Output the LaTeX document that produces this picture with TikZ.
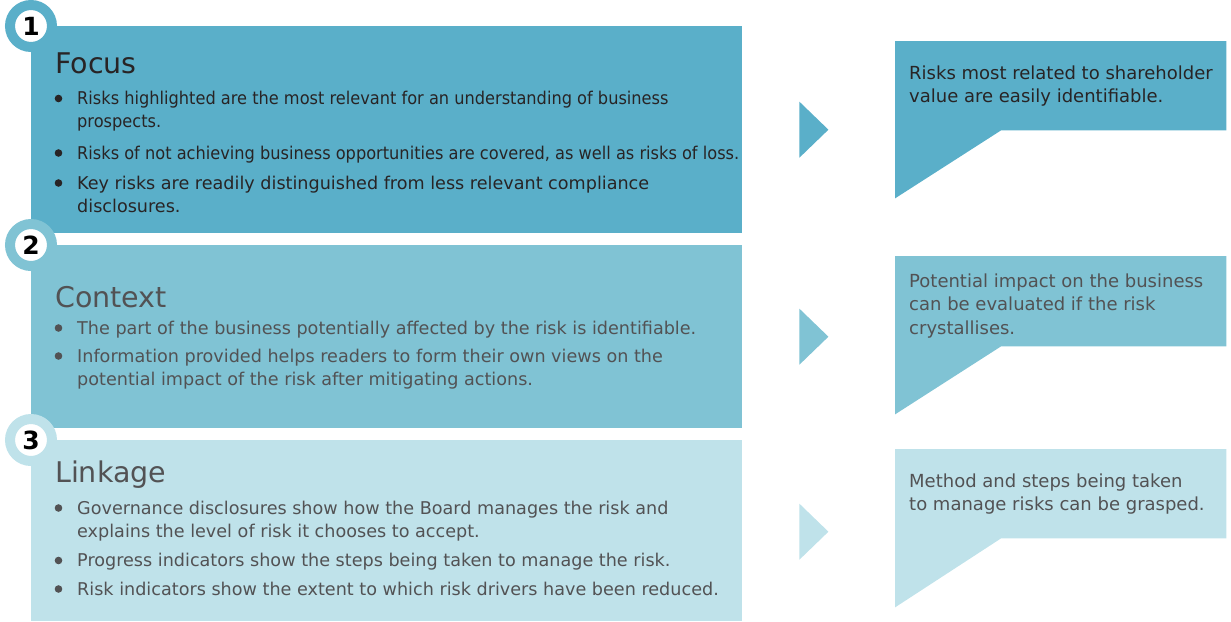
\documentclass[tikz,border=0pt]{standalone}
\usepackage{fontspec}
\setsansfont{DejaVu Sans}
\newfontfamily\narrowsf{DejaVu Sans}[FakeStretch=0.92]
\usetikzlibrary{positioning}

\definecolor{focusblue}{RGB}{90,175,201}
\definecolor{contextblue}{RGB}{128,195,212}
\definecolor{linkageblue}{RGB}{191,226,234}
\definecolor{darktext}{RGB}{40,36,37}
\definecolor{greytext}{RGB}{82,82,84}

% text block, baseline on the first line
\newcommand{\txt}[1]{\parbox[t]{700pt}{#1}}

\begin{document}
\begin{tikzpicture}[x=1pt,y=-1pt,font=\sffamily]

	\tikzset{panel st/.style={anchor=north west, inner sep=0pt,
			minimum width=711pt},
		badge st/.style={circle, fill=white, line width=10pt,
			minimum size=42pt, inner sep=0pt, text=black,
			font=\sffamily\bfseries\fontsize{25}{25}\selectfont},
		title st/.style={anchor=base west, inner sep=0pt,
			font=\sffamily\fontsize{28.5}{28.5}\selectfont},
		item st/.style={anchor=base west, inner sep=0pt,
			font=\sffamily\fontsize{17.6}{23.3}\selectfont},
		note st/.style={anchor=north west, inner sep=0pt,
			minimum width=331pt, minimum height=89pt}}

	\useasboundingbox (0,0) rectangle (1231,621);

	% panels
	\node[panel st, fill=focusblue, minimum height=207pt] (P1) at (31,26) {};
	\node[panel st, fill=contextblue, minimum height=183pt] (P2) at (31,245) {};
	\node[panel st, fill=linkageblue, minimum height=181pt] (P3) at (31,440) {};

	% number badges
	\node[badge st, draw=focusblue] (B1) at (P1.north west) {1};
	\node[badge st, draw=contextblue] (B2) at (P2.north west) {2};
	\node[badge st, draw=linkageblue] (B3) at (P3.north west) {3};

	% titles
	\node[title st, text=darktext] (H1) at (55,73) {Focus};
	\node[title st, text=greytext] (H2) at (55,307) {Context};
	\node[title st, text=greytext] (H3) at (55,482) {Linkage};

	% bullet items
	\node[item st, text=darktext, font=\narrowsf\fontsize{17.6}{23.3}\selectfont] (F1) at (77,104.5)
		{\txt{Risks highlighted are the most relevant for an understanding of business\\prospects.}};
	\node[item st, text=darktext, font=\narrowsf\fontsize{17.6}{23.3}\selectfont] (F2) at (77,159)
		{\txt{Risks of not achieving business opportunities are covered, as well as risks of loss.}};
	\node[item st, text=darktext] (F3) at (77,189)
		{\txt{Key risks are readily distinguished from less relevant compliance\\disclosures.}};

	\node[item st, text=greytext] (C1) at (77,334)
		{\txt{The part of the business potentially affected by the risk is identifiable.}};
	\node[item st, text=greytext] (C2) at (77,362)
		{\txt{Information provided helps readers to form their own views on the\\potential impact of the risk after mitigating actions.}};

	\node[item st, text=greytext] (L1) at (77,514)
		{\txt{Governance disclosures show how the Board manages the risk and\\explains the level of risk it chooses to accept.}};
	\node[item st, text=greytext] (L2) at (77,566.5)
		{\txt{Progress indicators show the steps being taken to manage the risk.}};
	\node[item st, text=greytext] (L3) at (77,595)
		{\txt{Risk indicators show the extent to which risk drivers have been reduced.}};

	% bullets
	\foreach \it in {F1,F2,F3}
		\fill[darktext] ([xshift=-18.5pt,yshift=6pt]\it.base west) circle (3.8pt);
	\foreach \it in {C1,C2,L1,L2,L3}
		\fill[greytext] ([xshift=-18.5pt,yshift=6pt]\it.base west) circle (3.8pt);

	% arrows
	\fill[focusblue] ([xshift=57pt]P1.east) ++(0,-28) -- ++(29,28) -- ++(-29,28) -- cycle;
	\fill[contextblue] ([xshift=57pt]P2.east) ++(0,-28) -- ++(29,28) -- ++(-29,28) -- cycle;
	\fill[linkageblue] ([xshift=57pt]P3.east) ++(0,-27) -- ++(29,28) -- ++(-29,28) -- cycle;

	% callouts
	\node[note st] (N1) at (895,41) {};
	\fill[focusblue] (N1.north west) -- (N1.north east) -- (N1.south east)
		-- ([xshift=106pt]N1.south west) -- ([yshift=-68pt]N1.south west) -- cycle;
	\node[note st, minimum height=90pt] (N2) at (895,256) {};
	\fill[contextblue] (N2.north west) -- (N2.north east) -- (N2.south east)
		-- ([xshift=106pt]N2.south west) -- ([yshift=-68pt]N2.south west) -- cycle;
	\node[note st] (N3) at (895,449) {};
	\fill[linkageblue] (N3.north west) -- (N3.north east) -- (N3.south east)
		-- ([xshift=106pt]N3.south west) -- ([yshift=-69pt]N3.south west) -- cycle;

	\node[item st, text=darktext, font=\sffamily\fontsize{18}{23.5}\selectfont] (T1) at (909,79)
		{\txt{Risks most related to shareholder\\value are easily identifiable.}};
	\node[item st, text=greytext, font=\sffamily\fontsize{18}{23.5}\selectfont] (T2) at (909,287)
		{\txt{Potential impact on the business\\can be evaluated if the risk\\crystallises.}};
	\node[item st, text=greytext, font=\sffamily\fontsize{18}{23.5}\selectfont] (T3) at (909,487)
		{\txt{Method and steps being taken\\to manage risks can be grasped.}};

\end{tikzpicture}
\end{document}
